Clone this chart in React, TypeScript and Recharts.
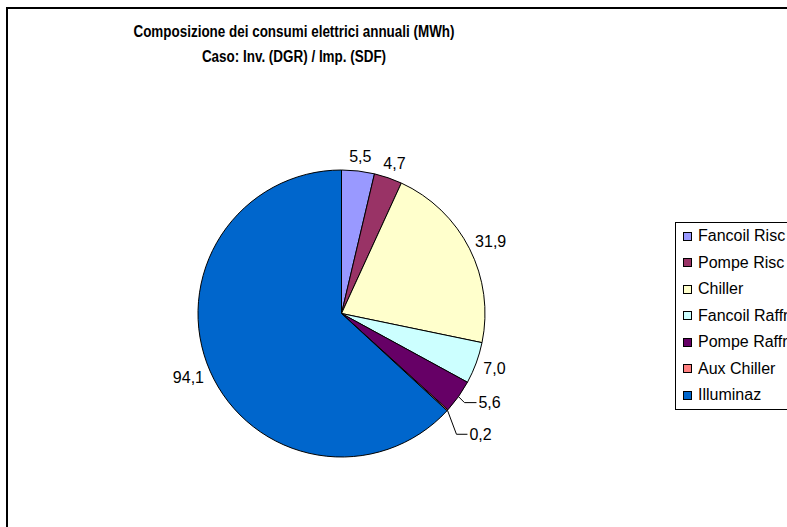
import React from "react"
import { Pie, PieChart } from "recharts"

const categories = ["Fancoil Risc", "Pompe Risc", "Chiller", "Fancoil Raffr", "Pompe Raffr", "Aux Chiller", "Illuminaz"]
const consumi = [5.5, 4.7, 31.9, 7.0, 5.6, 0.2, 94.1]
const colors = ["#9999FF", "#993366", "#FFFFCC", "#CCFFFF", "#660066", "#FF8080", "#0066CC"]

const titleLines = ["Composizione dei consumi elettrici annuali (MWh)", "Caso: Inv. (DGR) / Imp. (SDF)"]

// slices whose label sits off to the side with a leader line (knee offset, horizontal run)
const leaders: Record<number, { kx: number; ky: number; run: number }> = {
  4: { kx: 6, ky: 6, run: 12 },
  5: { kx: 9, ky: 24, run: 11 },
}

const FONT = '"Liberation Sans", Arial, sans-serif'
const LABEL_SIZE = 16
const RADIAN = Math.PI / 180

const data = categories.map((name, i) => ({ name, value: consumi[i], fill: colors[i] }))

const fmt = (v: number) => v.toFixed(1).replace(".", ",")

function renderLabel(props: any) {
  const { cx, cy, midAngle, outerRadius, value, index } = props
  const cos = Math.cos(-midAngle * RADIAN)
  const sin = Math.sin(-midAngle * RADIAN)
  const ex = cx + outerRadius * cos
  const ey = cy + outerRadius * sin
  const text = fmt(value)
  const lead = leaders[index]
  if (lead) {
    const kx = ex + lead.kx
    const ky = ey + lead.ky
    const endX = kx + lead.run
    return (
      <g key={`lbl-${index}`}>
        <polyline points={`${ex},${ey} ${kx},${ky} ${endX},${ky}`} fill="none" stroke="#000" strokeWidth={1} />
        <text x={endX + 2} y={ky} fontSize={LABEL_SIZE} fontFamily={FONT} fill="#000" textAnchor="start" dominantBaseline="central">
          {text}
        </text>
      </g>
    )
  }
  const gap = 7
  const halfW = (text.length * LABEL_SIZE * 0.52) / 2
  const halfH = LABEL_SIZE / 2
  const x = ex + cos * gap + halfW * cos
  const y = ey + sin * gap + halfH * sin
  return (
    <text key={`lbl-${index}`} x={x} y={y} fontSize={LABEL_SIZE} fontFamily={FONT} fill="#000" textAnchor="middle" dominantBaseline="central">
      {text}
    </text>
  )
}

function LegendBox() {
  return (
    <div
      style={{
        position: "absolute",
        left: 667,
        top: 213,
        border: "1px solid #000",
        background: "#fff",
        padding: "0 40px 0 7px",
        fontFamily: FONT,
        fontSize: LABEL_SIZE,
      }}
    >
      {data.map((d) => (
        <div key={d.name} style={{ display: "flex", alignItems: "center", height: 26.5, whiteSpace: "nowrap" }}>
          <span style={{ display: "inline-block", width: 7, height: 7, background: d.fill, border: "1px solid #000", marginRight: 6 }} />
          <span>{d.name}</span>
        </div>
      ))}
    </div>
  )
}

export default function App() {
  return (
    <div style={{ position: "fixed", left: 0, top: 0, width: 787, height: 527, overflow: "hidden", background: "#fff" }}>
      <div style={{ position: "absolute", left: 6, top: 7, width: 800, height: 540, border: "2px solid #000", background: "#fff" }}>
        <div
          style={{
            position: "absolute",
            left: 0,
            top: 10,
            width: 572,
            textAlign: "center",
            fontFamily: FONT,
            fontWeight: "bold",
            fontSize: 16,
            lineHeight: "25px",
            transform: "scaleX(0.84)",
            transformOrigin: "286px 0",
            zIndex: 2,
          }}
        >
          {titleLines.map((t) => (
            <div key={t}>{t}</div>
          ))}
        </div>
        <PieChart width={800} height={520} margin={{ top: 0, right: 0, bottom: 0, left: 0 }}>
          <Pie
            data={data}
            dataKey="value"
            nameKey="name"
            cx={333.5}
            cy={304.5}
            outerRadius={143.5}
            startAngle={90}
            endAngle={-270}
            stroke="#000"
            strokeWidth={1}
            label={renderLabel}
            labelLine={false}
            isAnimationActive={false}
          />
        </PieChart>
        <LegendBox />
      </div>
    </div>
  )
}
